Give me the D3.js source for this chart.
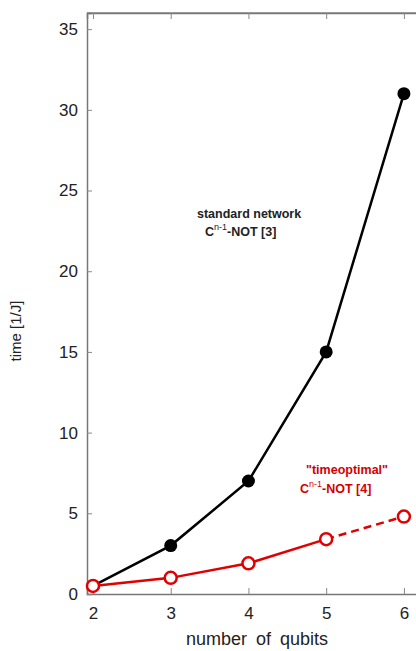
<!DOCTYPE html>
<html>
<head>
<meta charset="utf-8">
<script src="https://cdn.jsdelivr.net/npm/d3@7"></script>
<style>
body { margin: 0; background: #fff; }
svg { font-family: "Liberation Sans", Arial, sans-serif; }
</style>
</head>
<body>
<div id="chart"></div>
<script>
var qubits = [2, 3, 4, 5, 6];
var standardTime = [0.5, 3, 7, 15, 31];
var optimalTime = [0.5, 1, 1.9, 3.4, 4.8];
var xTicks = [2, 3, 4, 5, 6];
var yTicks = [0, 5, 10, 15, 20, 25, 30, 35];

(function() {
	var margin = { top: 13, left: 87, right: 0, bottom: 56 },
	width = 416 - margin.left - margin.right,
	height = 651 - margin.top - margin.bottom;

	var svg = d3.select("#chart")
		.append("svg")
		.attr("width", 416)
		.attr("height", 651)
		.append("g")
		.attr("transform", "translate(" + margin.left + "," + margin.top + ")");

	var xPositionScale = d3.scaleLinear().domain([1.923, 6.4]).range([0, 348]);
	var yPositionScale = d3.scaleLinear().domain([0, 36]).range([height - 1, 0]);

	var black = qubits.map(function(q, i) { return { q: q, t: standardTime[i] } });
	var red = qubits.map(function(q, i) { return { q: q, t: optimalTime[i] } });

	var line = d3.line()
		.x(function(d) { return xPositionScale(d.q) })
		.y(function(d) { return yPositionScale(d.t) });

	// frame
	svg.append("line").attr("x1", 0).attr("x2", width).attr("y1", 0).attr("y2", 0)
		.attr("stroke", "#888").attr("stroke-width", 1.5);

	var xAxis = d3.axisBottom(xPositionScale).tickValues(xTicks).tickSize(-6).tickPadding(13)
		.tickFormat(d3.format("d"));
	svg.append("g")
		.attr("class", "axis x-axis")
		.attr("transform", "translate(0," + (height - 1) + ")")
		.call(xAxis);

	var xTop = d3.axisTop(xPositionScale).tickValues(xTicks).tickSize(-6).tickFormat("");
	svg.append("g").attr("class", "axis").call(xTop);

	var yAxis = d3.axisLeft(yPositionScale).tickValues(yTicks).tickSize(-5).tickPadding(9);
	svg.append("g")
		.attr("class", "axis y-axis")
		.call(yAxis);

	svg.selectAll(".axis path").attr("stroke", "#777").attr("stroke-width", 1.5);
	svg.selectAll(".axis .tick line").attr("stroke", "#888");
	svg.selectAll(".axis text").attr("font-size", 17).attr("fill", "#222")
		.attr("font-family", "'Liberation Sans', Arial, sans-serif");

	// black series
	svg.append("path")
		.datum(black)
		.attr("d", line)
		.attr("fill", "none")
		.attr("stroke", "#000")
		.attr("stroke-width", 2.5);

	svg.selectAll(".bk-circle")
		.data(black.slice(1))
		.enter()
		.append("circle")
		.attr("class", "bk-circle")
		.attr("r", 6.5)
		.attr("cx", function(d) { return xPositionScale(d.q) })
		.attr("cy", function(d) { return yPositionScale(d.t) })
		.attr("fill", "#000");

	// red series, last segment dashed
	svg.append("path")
		.datum(red.slice(0, 4))
		.attr("d", line)
		.attr("fill", "none")
		.attr("stroke", "#e00000")
		.attr("stroke-width", 2.5);

	svg.append("path")
		.datum(red.slice(3))
		.attr("d", line)
		.attr("fill", "none")
		.attr("stroke", "#e00000")
		.attr("stroke-width", 2.5)
		.attr("stroke-dasharray", "8,5");

	svg.selectAll(".rd-circle")
		.data(red)
		.enter()
		.append("circle")
		.attr("class", "rd-circle")
		.attr("r", 6)
		.attr("cx", function(d) { return xPositionScale(d.q) })
		.attr("cy", function(d) { return yPositionScale(d.t) })
		.attr("fill", "#fff")
		.attr("stroke", "#e00000")
		.attr("stroke-width", 2.5);

	// annotations
	var ann1 = svg.append("text")
		.attr("x", 110).attr("y", 205)
		.attr("font-size", 12.5).attr("font-weight", "bold").attr("fill", "#222");
	ann1.append("tspan").text("standard network");

	var ann2 = svg.append("text")
		.attr("x", 118).attr("y", 223)
		.attr("font-size", 12.5).attr("font-weight", "bold").attr("fill", "#222");
	ann2.append("tspan").text("C");
	ann2.append("tspan").attr("dy", -6).attr("font-size", 9).attr("font-weight", "normal").text("n-1");
	ann2.append("tspan").attr("dy", 6).text("-NOT [3]");

	var ann3 = svg.append("text")
		.attr("x", 219).attr("y", 461)
		.attr("font-size", 12.5).attr("font-weight", "bold").attr("fill", "#d40000");
	ann3.append("tspan").text("\"timeoptimal\"");

	var ann4 = svg.append("text")
		.attr("x", 213).attr("y", 480)
		.attr("font-size", 12.5).attr("font-weight", "bold").attr("fill", "#d40000");
	ann4.append("tspan").text("C");
	ann4.append("tspan").attr("dy", -6).attr("font-size", 9).attr("font-weight", "normal").text("n-1");
	ann4.append("tspan").attr("dy", 6).text("-NOT [4]");

	// axis titles
	svg.append("text")
		.attr("x", 170).attr("y", height + 50)
		.attr("text-anchor", "middle")
		.attr("font-size", 18).attr("fill", "#222")
		.attr("word-spacing", 4)
		.text("number of qubits");

	svg.append("text")
		.attr("transform", "translate(-66," + 318 + ") rotate(-90)")
		.attr("text-anchor", "middle")
		.attr("font-size", 15).attr("fill", "#222")
		.text("time [1/J]");
})();
</script>
</body>
</html>
